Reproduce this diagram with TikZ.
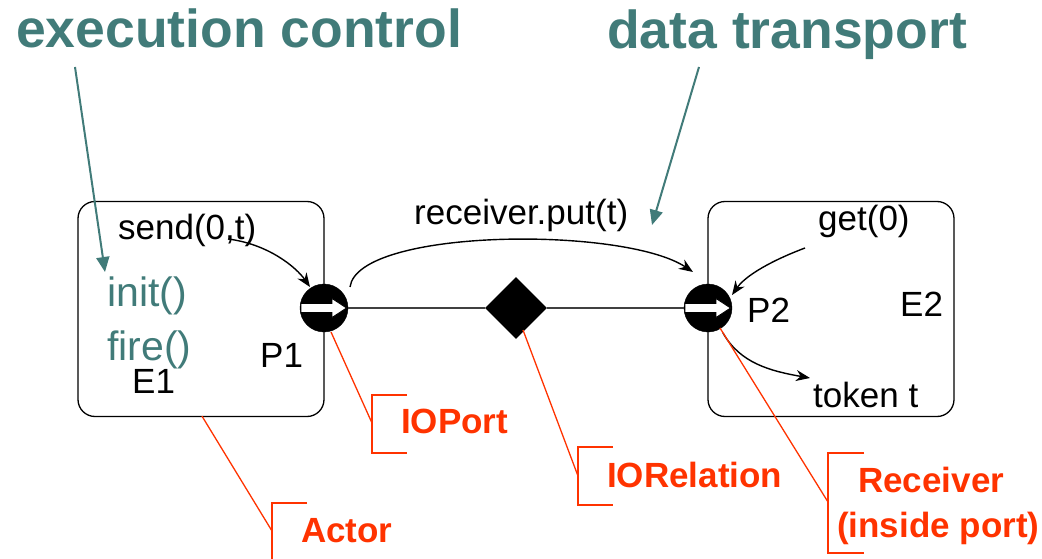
\documentclass[tikz,border=0pt]{standalone}
\usepackage{fontspec}
\setmainfont{Liberation Sans}
\usetikzlibrary{shapes.geometric,arrows.meta,calc}
\definecolor{ptealc}{HTML}{417B79}
\definecolor{pred}{HTML}{FF3300}
\begin{document}
\begin{tikzpicture}[x=1pt,y=-1pt,
  actorbox/.style={draw=black,line width=1.3pt,rounded corners=17pt,minimum width=246pt,minimum height=215pt,inner sep=0},
  portdot/.style={circle,fill=black,draw=black,minimum size=48pt,inner sep=0},
  relbox/.style={diamond,fill=black,minimum width=62pt,minimum height=62pt,inner sep=0,aspect=1},
  link/.style={draw=black!75,line width=2pt},
  txt/.style={anchor=base west,inner sep=0,font=\fontsize{35}{40}\selectfont},
  methtxt/.style={anchor=base west,inner sep=0,text=ptealc,font=\fontsize{41}{46}\selectfont},
  headtxt/.style={anchor=base west,inner sep=0,text=ptealc,font=\fontsize{53.5}{60}\selectfont\bfseries},
  notetxt/.style={anchor=base west,inner sep=0,text=pred,font=\fontsize{35}{40}\selectfont\bfseries},
  flow/.style={draw=black,line width=1.4pt,-{Stealth[length=14pt,width=11pt]}},
  pointer/.style={draw=ptealc,line width=2pt,-{Triangle[length=15pt,width=13pt]}},
  leader/.style={draw=pred,line width=1.3pt},
  bracket/.style={draw=pred,line width=1.3pt}
]
\path[use as bounding box] (0,0) rectangle (1042,559);

% actors
\node[actorbox] (e1) at (201,309) {};
\node[actorbox] (e2) at (831,309) {};

% relation and connections
\node[relbox] (r1) at (516,308) {};
\node[portdot] (p1) at (324,308) {};
\node[portdot] (p2) at (708,308) {};
\draw[link] (p1) -- (r1);
\draw[link] (r1) -- (p2);

% white arrows inside the ports
\foreach \p in {p1,p2}{
  \draw[fill=white,draw=black,line width=0.8pt]
    ($(\p)+(-23,-4.5)$) -- ($(\p)+(8,-4.5)$) -- ($(\p)+(8,-9.5)$) -- ($(\p)+(22.5,0)$)
    -- ($(\p)+(8,9.5)$) -- ($(\p)+(8,4.5)$) -- ($(\p)+(-23,4.5)$) -- cycle;
}

% texts
\node[headtxt] (hexec) at (16,48) {execution control};
\node[headtxt] (hdata) at (607,49) {data transport};
\node[txt] (send) at (118,239) {send(0,t)};
\node[methtxt] (init) at (107,306) {init()};
\node[methtxt] (fire) at (107,360) {fire()};
\node[txt] (le1) at (132,393) {E1};
\node[txt] (lp1) at (260,367) {P1};
\node[txt] (put) at (414,225) {receiver.put(t)};
\node[txt] (get) at (818,230) {get(0)};
\node[txt] (lp2) at (747,322) {P2};
\node[txt] (le2) at (900,316) {E2};
\node[txt] (tok) at (813,407) {token t};
\node[notetxt] (nport) at (401,433) {IOPort};
\node[notetxt] (nactor) at (301,542) {Actor};
\node[notetxt] (nrel) at (607,487) {IORelation};
\node[notetxt] (nrecv) at (858,492) {Receiver};
\node[notetxt] (nrecv2) at (837,537) {(inside port)};

% method-call arrows
\draw[flow] ($(send.base west)+(110,0)$) .. controls ($(send.base west)+(150,5)$) and ($(send.base west)+(178,28)$) .. ($(p1)+(-14,-21)$);
\draw[flow] ($(p1)+(26,-21)$) .. controls ($(p1)+(34,-80)$) and ($(p1)+(300,-82)$) .. ($(p2)+(-15,-36)$);
\draw[flow] ($(get.base west)+(-13,18)$) .. controls ($(get.base west)+(-45,30)$) and ($(get.base west)+(-72,45)$) .. ($(p2)+(24,-13)$);
\draw[flow] ($(p2)+(15,25)$) .. controls ($(p2)+(32,55)$) and ($(p2)+(62,63)$) .. ($(tok.base west)+(-3,-29)$);

% headline pointers
\draw[pointer] ($(hexec.base west)+(59,19)$) -- ($(init.base west)+(-2,-34)$);
\draw[pointer] ($(hdata.base west)+(92,18)$) -- ($(put.base west)+(238,0)$);

% annotations
\draw[leader] ($(p1)+(7,24)$) -- (372,423);
\draw[bracket] (407,395) -- (372,395) -- (372,453) -- (407,453);
\draw[leader] ($(e1.south)+(1,-1)$) -- (272,531);
\draw[bracket] (307,503) -- (272,503) -- (272,562);
\draw[leader] ($(r1)+(7,22)$) -- (578,476);
\draw[bracket] (613,447) -- (578,447) -- (578,505) -- (613,505);
\draw[leader] ($(p2)+(12,20)$) -- (828,502);
\draw[bracket] (864,453) -- (828,453) -- (828,553) -- (864,553);
\end{tikzpicture}
\end{document}
